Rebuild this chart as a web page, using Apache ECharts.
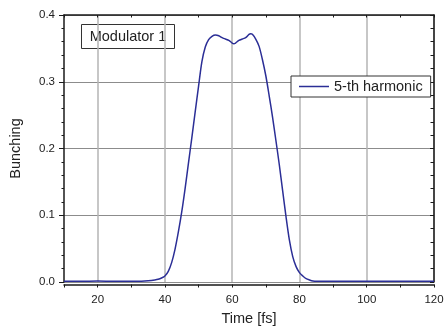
<!DOCTYPE html>
<html><head><meta charset="utf-8">
<script src="https://cdn.jsdelivr.net/npm/echarts@6/dist/echarts.min.js"></script>
<style>html,body{margin:0;padding:0;background:#fff}#c{width:444px;height:326px}</style>
</head><body><div id="c"></div>
<script>
// Time [fs]
const times = [10, 15, 20, 25, 30, 33, 35, 37, 38, 39, 40, 41, 42, 43, 44, 45, 46, 47, 48, 49, 50, 51, 52, 53, 54, 55, 56, 57, 58, 59, 60, 60.5, 61, 62, 63, 64, 65, 65.5, 66, 67, 68, 69, 70, 71, 72, 73, 74, 75, 76, 77, 78, 79, 80, 81, 82, 83, 84, 85, 86, 88, 90, 95, 100, 105, 110, 115, 120];
// Bunching of the 5-th harmonic
const bunching = [0.001, 0.001, 0.0015, 0.001, 0.001, 0.0012, 0.0018, 0.003, 0.004, 0.006, 0.009, 0.016, 0.029, 0.049, 0.075, 0.105, 0.14, 0.178, 0.216, 0.255, 0.293, 0.330, 0.352, 0.363, 0.368, 0.370, 0.369, 0.366, 0.364, 0.362, 0.358, 0.357, 0.358, 0.362, 0.364, 0.366, 0.371, 0.372, 0.371, 0.364, 0.353, 0.333, 0.309, 0.279, 0.247, 0.212, 0.176, 0.137, 0.098, 0.063, 0.038, 0.023, 0.014, 0.009, 0.005, 0.003, 0.0015, 0.001, 0.001, 0.001, 0.001, 0.0012, 0.001, 0.001, 0.0012, 0.001, 0.001];
const seriesName = '5-th harmonic';
const boxLabel = 'Modulator 1';
const xLabeled = [20, 40, 60, 80, 100, 120];

const FONT = 'Liberation Sans, Arial, sans-serif';
const AX = '#1a1a1a';
const chart = echarts.init(document.getElementById('c'), null, {renderer: 'canvas'});
const xBase = {
  type: 'value', min: 10, max: 120, interval: 10,
  axisLine: {show: true, onZero: false, lineStyle: {color: AX, width: 1.5}},
  minorTick: {show: false}
};
chart.setOption({
  animation: false,
  backgroundColor: '#fff',
  grid: {left: 64, right: 10, top: 15, bottom: 44, containLabel: false, outerBoundsMode: 'none'},
  xAxis: [
    Object.assign({}, xBase, {
      position: 'bottom', offset: 2.5,
      name: 'Time [fs]', nameLocation: 'middle', nameGap: 27,
      nameTextStyle: {fontFamily: FONT, fontSize: 14.5, color: '#222'},
      axisTick: {show: true, inside: false, length: 3, lineStyle: {color: AX, width: 1}},
      axisLabel: {margin: 9, fontFamily: FONT, fontSize: 11.5, color: '#222',
        formatter: v => xLabeled.indexOf(v) >= 0 ? String(v) : ''},
      splitLine: {show: true, lineStyle: {color: ['rgba(0,0,0,0)', '#b4b4b4'], width: 1.5}}
    }),
    Object.assign({}, xBase, {
      position: 'top',
      axisTick: {show: true, inside: true, length: 2.5, lineStyle: {color: AX, width: 1}},
      axisLabel: {show: false},
      splitLine: {show: false}
    })
  ],
  yAxis: [
    {
      type: 'value', min: 0, max: 0.4, interval: 0.1, position: 'left',
      name: 'Bunching', nameLocation: 'middle', nameGap: 41, nameRotate: 90,
      nameTextStyle: {fontFamily: FONT, fontSize: 14.5, color: '#222'},
      axisLine: {show: true, lineStyle: {color: AX, width: 1.5}},
      axisTick: {show: true, inside: false, length: 5, lineStyle: {color: AX, width: 1}},
      minorTick: {show: true, splitNumber: 5, length: 2.5, lineStyle: {color: AX, width: 1}},
      axisLabel: {margin: 9, fontFamily: FONT, fontSize: 11.5, color: '#222',
        formatter: v => v.toFixed(1)},
      splitLine: {show: true, lineStyle: {color: '#8c8c8c', width: 1}}
    },
    {
      type: 'value', min: 0, max: 0.4, interval: 0.1, position: 'right',
      axisLine: {show: true, lineStyle: {color: AX, width: 1.5}},
      axisTick: {show: true, inside: true, length: 4, lineStyle: {color: AX, width: 1}},
      minorTick: {show: true, splitNumber: 5, length: 3.5, lineStyle: {color: AX, width: 1}},
      axisLabel: {show: false},
      splitLine: {show: false}
    }
  ],
  legend: {
    left: 291, top: 76,
    padding: [3, 8, 3, 8],
    itemWidth: 30, itemHeight: 14, itemGap: 0,
    backgroundColor: '#fff', borderColor: '#333', borderWidth: 1,
    textStyle: {fontFamily: FONT, fontSize: 14.5, color: '#222', padding: [0, 0, 0, 0]},
    data: [{name: seriesName, icon: 'path://M0,0 L30,0 L30,1.5 L0,1.5 Z'}]
  },
  graphic: [{
    type: 'group', left: 81, top: 24, z: 10,
    children: [
      {type: 'rect', shape: {x: 0, y: 0, width: 93, height: 24},
        style: {fill: '#fff', stroke: '#333', lineWidth: 1}},
      {type: 'text', x: 46.5, y: 12.5,
        style: {text: boxLabel, fontFamily: FONT, fontSize: 14.5, fill: '#222',
          align: 'center', verticalAlign: 'middle'}}
    ]
  }],
  series: [{
    name: seriesName, type: 'line', xAxisIndex: 0, yAxisIndex: 0,
    data: times.map((t, i) => [t, bunching[i]]),
    symbol: 'none', smooth: 0.3,
    lineStyle: {color: '#2b2e96', width: 1.5},
    itemStyle: {color: '#2b2e96'}
  }]
});
</script></body></html>
